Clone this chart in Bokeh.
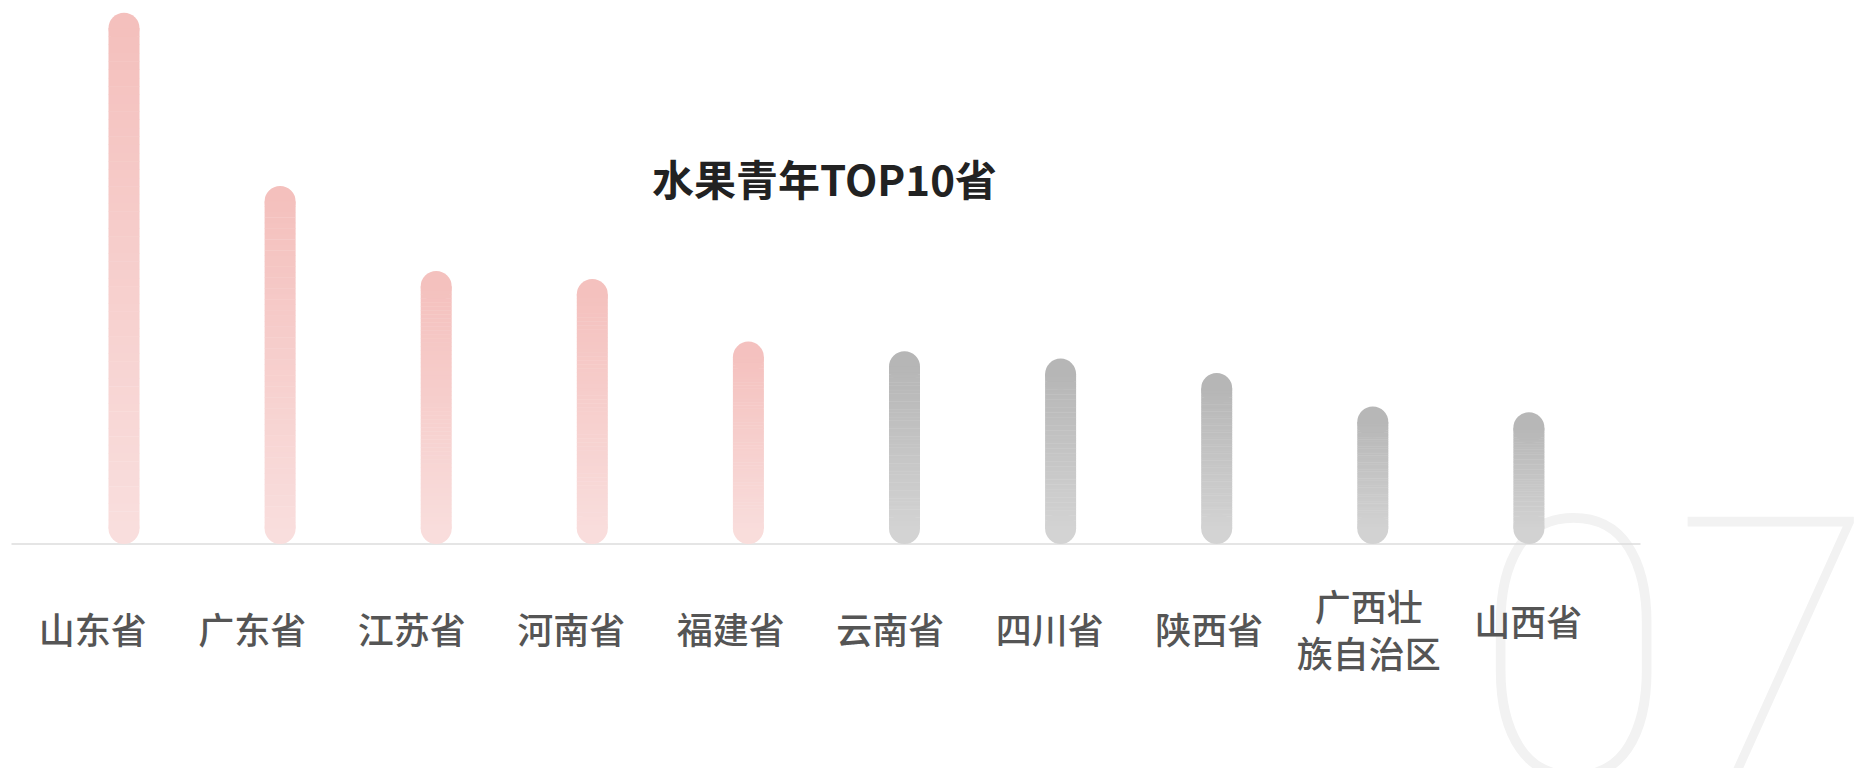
from bokeh.plotting import figure
from bokeh.models import ColumnDataSource, Range1d
from bokeh.core.properties import value
from bokeh.embed import file_html
from bokeh.resources import INLINE

# ---------------- data ----------------
provinces = ["山东省", "广东省", "江苏省", "河南省", "福建省",
             "云南省", "四川省", "陕西省", "广西壮族自治区", "山西省"]
tick_labels = ["山东省", "广东省", "江苏省", "河南省", "福建省",
               "云南省", "四川省", "陕西省", "广西壮\n族自治区", "山西省"]
values = [100, 67.4, 51.4, 49.9, 38.1, 36.3, 34.9, 32.2, 25.9, 24.8]
title_text = "水果青年TOP10省"
watermark_text = "07"

# ---------------- layout / style ----------------
W, H = 1866, 768
BAR_STEP_PX = 156.1        # distance between bars (px)
FIRST_BAR_PX = 123.5       # first bar centre (px from left)
BASE_PX = 543.5            # baseline (px from top)
PX_PER_UNIT = 5.312        # vertical scale
BAR_W_PX = 31
LABEL_STEP_PX = 159.5
FIRST_LABEL_PX = 92.3
LABEL_Y_PX = [627, 627, 627, 627, 627, 627, 627, 627, 628, 619]
HIGHLIGHT = 5
PINK_TOP, PINK_BOT = (244, 191, 188), (249, 223, 222)
GRAY_TOP, GRAY_BOT = (179, 179, 179), (214, 214, 214)
N_SLICES = 60

x_start = -FIRST_BAR_PX / BAR_STEP_PX
x_end = x_start + W / BAR_STEP_PX
y_end = BASE_PX / PX_PER_UNIT
y_start = -(H - BASE_PX) / PX_PER_UNIT


def xd(px):  # screen px -> data x
    return x_start + px / BAR_STEP_PX


def yd(px):  # screen px from top -> data y
    return (BASE_PX - px) / PX_PER_UNIT


def mix(c0, c1, t):
    return "#%02x%02x%02x" % tuple(int(round(a + (b - a) * t)) for a, b in zip(c0, c1))


p = figure(width=W, height=H, output_backend="svg", toolbar_location=None,
           x_range=Range1d(x_start, x_end), y_range=Range1d(y_start, y_end),
           x_axis_location=None, y_axis_location=None, min_border=0,
           outline_line_color=None, background_fill_color="white",
           border_fill_color="white")
p.grid.visible = False

# watermark "07"
p.text(x=[xd(1473)], y=[yd(645)], text=[watermark_text],
       text_font=value("Roboto Thin, Lato Hairline, Lato Light, Roboto"),
       text_font_size="366px", text_color="#f2f2f2",
       text_align="left", text_baseline="middle")

# baseline
p.segment(x0=[xd(11)], y0=[0], x1=[xd(1640)], y1=[0],
          line_color="#dddddd", line_width=1.6)

# bars with vertical gradient and round caps
r_units = (BAR_W_PX / 2) / PX_PER_UNIT
half_w = (BAR_W_PX / 2) / BAR_STEP_PX
q = dict(left=[], right=[], bottom=[], top=[], color=[])
caps = dict(x=[], y=[], color=[])
for i, v in enumerate(values):
    top_c, bot_c = (PINK_TOP, PINK_BOT) if i < HIGHLIGHT else (GRAY_TOP, GRAY_BOT)
    y0, y1 = r_units, v - r_units
    step = (y1 - y0) / N_SLICES
    overlap = 0.4 / PX_PER_UNIT
    for k in range(N_SLICES):
        b = y0 + k * step
        t = b + step
        frac = ((b + t) / 2) / v
        q["left"].append(i - half_w)
        q["right"].append(i + half_w)
        q["bottom"].append(b)
        q["top"].append(min(t + overlap, y1))
        q["color"].append(mix(bot_c, top_c, frac))
    caps["x"] += [i, i]
    caps["y"] += [y0, y1]
    caps["color"] += [mix(bot_c, top_c, y0 / v), mix(bot_c, top_c, y1 / v)]

p.scatter(x="x", y="y", size=BAR_W_PX, marker="circle", fill_color="color",
          line_color=None, source=ColumnDataSource(caps))
p.quad(left="left", right="right", bottom="bottom", top="top",
       fill_color="color", line_color=None, source=ColumnDataSource(q))

# category labels
lab = ColumnDataSource(dict(
    x=[xd(FIRST_LABEL_PX + i * LABEL_STEP_PX) for i in range(len(tick_labels))],
    y=[yd(py) for py in LABEL_Y_PX],
    text=tick_labels))
p.text(x="x", y="y", text="text", source=lab,
       text_font=value("Noto Sans CJK SC Medium, Noto Sans CJK SC"),
       text_font_size="36px",
       text_color="#555555", text_align="center", text_baseline="middle",
       text_line_height=0.9)

# title
p.text(x=[xd(824)], y=[yd(177)], text=[title_text],
       text_font=value("Noto Sans CJK SC"), text_font_size="42px",
       text_font_style="bold", text_color="#222222",
       text_align="center", text_baseline="middle")

open("out.html", "w").write(file_html(p, INLINE))
